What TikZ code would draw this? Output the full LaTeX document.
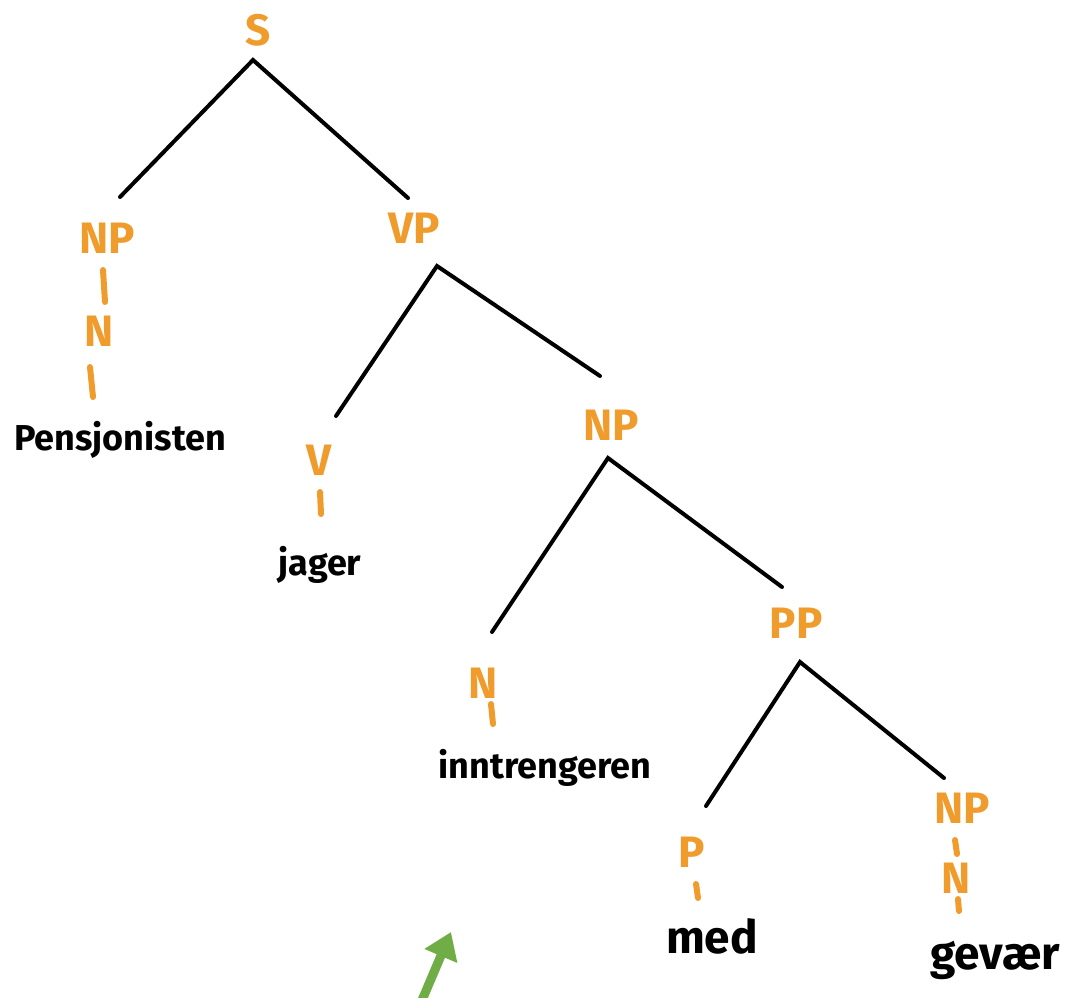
\documentclass[tikz,border=0pt]{standalone}
\usepackage{fontspec}
\setmainfont{Fira Sans}
\usetikzlibrary{arrows.meta}
\definecolor{lab}{RGB}{240,156,44}
\definecolor{arrowgreen}{RGB}{112,173,71}
\tikzset{
  cat/.style={text=lab, font=\fontsize{44}{44}\selectfont\bfseries, inner sep=0pt},
  word/.style={text=black, font=\fontsize{36}{36}\selectfont\bfseries, inner sep=0pt},
  bigword/.style={text=black, font=\fontsize{46}{46}\selectfont\bfseries, inner sep=0pt},
  branch/.style={draw=black, line width=4pt, line cap=round},
  tick/.style={draw=lab, line width=6pt, line cap=round},
  pointer/.style={draw=arrowgreen, line width=9pt, -{Triangle[length=26pt,width=34pt]}}
}
\begin{document}
\begin{tikzpicture}[x=1pt,y=-1pt]
\useasboundingbox (0,0) rectangle (1066,997);
% category labels
\node[cat] (S) at (258,30) {S};
\node[cat] (NPa) at (107,238) {NP};
\node[cat] (Na) at (99,331) {N};
\node[cat] (VP) at (414,228) {VP};
\node[cat] (V) at (319,460) {V};
\node[cat] (NPb) at (611,425) {NP};
\node[cat] (Nb) at (483,683) {N};
\node[cat] (PP) at (796,623) {PP};
\node[cat] (P) at (692,852) {P};
\node[cat] (NPc) at (962,808) {NP};
\node[cat] (Nc) at (956,878) {N};
% words
\node[word] (pens) at (120,440) {Pensjonisten};
\node[word] (jager) at (320,565) {jager};
\node[word] (inntr) at (545,768) {inntrengeren};
\node[bigword] (med) at (712,936) {med};
\node[bigword] (gevaer) at (995,960) {gevær};
% branch points
\coordinate (S-a) at (253,60);
\coordinate (NPa-t) at (120,197);
\coordinate (VP-t) at (408,198);
\coordinate (VP-a) at (437,266);
\coordinate (V-t) at (336,416);
\coordinate (NPb-t) at (600,376);
\coordinate (NPb-a) at (608,458);
\coordinate (Nb-t) at (492,632);
\coordinate (PP-t) at (782,587);
\coordinate (PP-a) at (800,662);
\coordinate (P-t) at (706,806);
\coordinate (NPc-t) at (944,778);
\draw[branch] (NPa-t) -- (S-a) -- (VP-t);
\draw[branch] (V-t) -- (VP-a) -- (NPb-t);
\draw[branch] (Nb-t) -- (NPb-a) -- (PP-t);
\draw[branch] (P-t) -- (PP-a) -- (NPc-t);
% unary ticks
\coordinate (t1a) at (103,270); \coordinate (t1b) at (105,302);
\coordinate (t2a) at (90,367);  \coordinate (t2b) at (93,397);
\coordinate (t3a) at (320,492); \coordinate (t3b) at (321,514);
\coordinate (t4a) at (491,704); \coordinate (t4b) at (493,724);
\coordinate (t5a) at (696,884); \coordinate (t5b) at (698,898);
\coordinate (t6a) at (955,840); \coordinate (t6b) at (957,854);
\coordinate (t7a) at (958,899); \coordinate (t7b) at (959,911);
\draw[tick] (t1a) -- (t1b);
\draw[tick] (t2a) -- (t2b);
\draw[tick] (t3a) -- (t3b);
\draw[tick] (t4a) -- (t4b);
\draw[tick] (t5a) -- (t5b);
\draw[tick] (t6a) -- (t6b);
\draw[tick] (t7a) -- (t7b);
% green arrow
\coordinate (arr-s) at (417,1012);
\coordinate (arr-e) at (451,932);
\draw[pointer] (arr-s) -- (arr-e);
\end{tikzpicture}
\end{document}
